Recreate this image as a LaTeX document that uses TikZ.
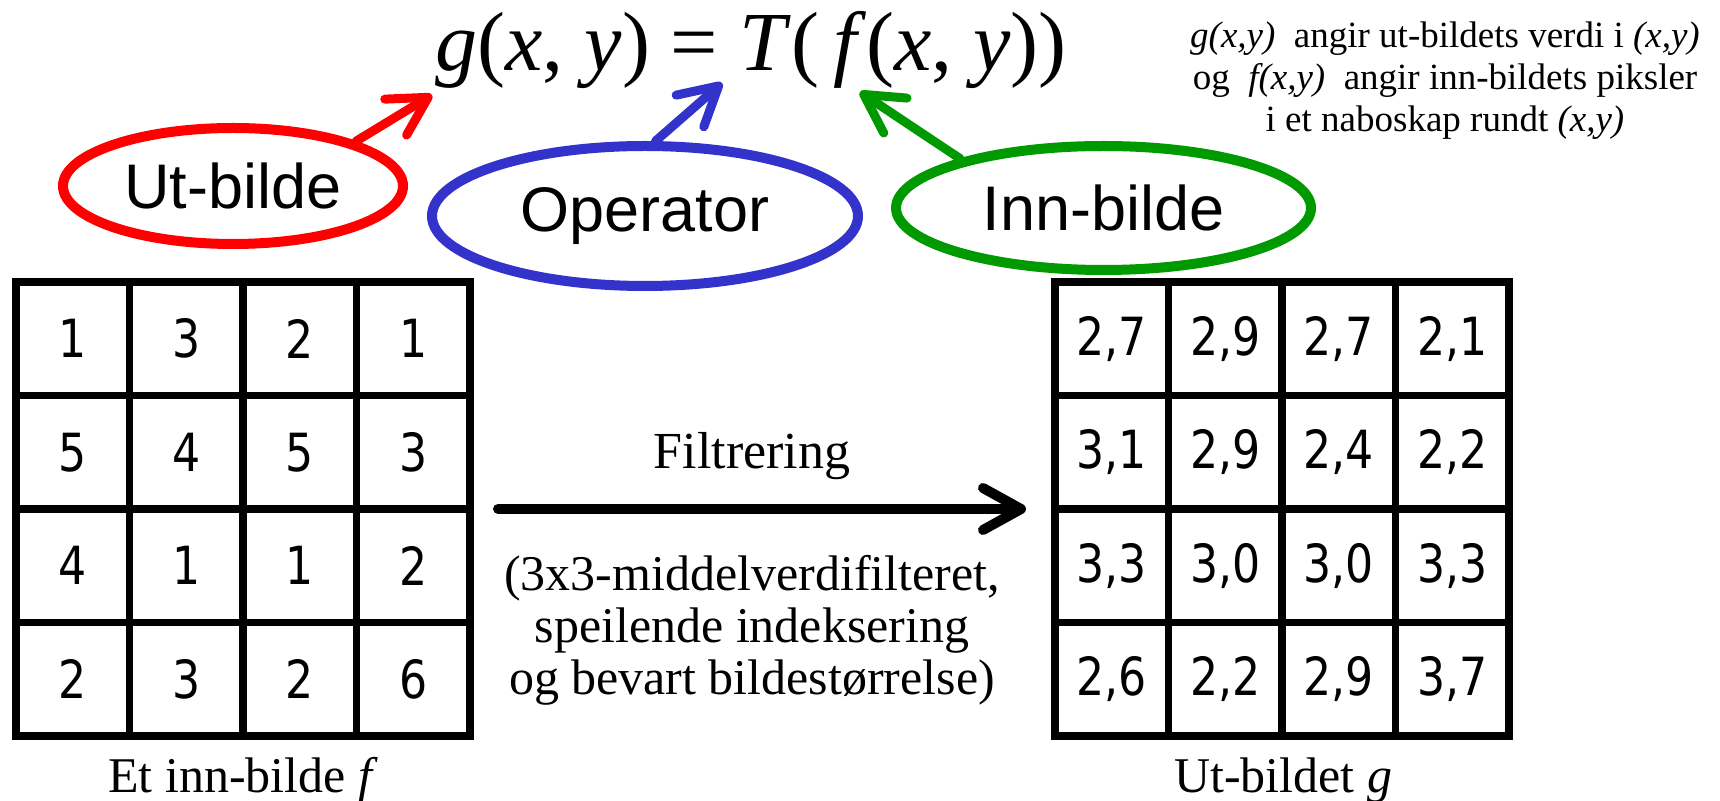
\documentclass[tikz,border=0pt]{standalone}
\usepackage{fontspec}
\setmainfont{Liberation Serif}
\newfontfamily\arialfont{Liberation Sans}
\newfontfamily\cellfont[FakeStretch=0.84]{DejaVu Sans}
\usetikzlibrary{shapes.geometric,arrows.meta}
\definecolor{utRed}{RGB}{255,0,0}
\definecolor{opBlue}{RGB}{51,51,204}
\definecolor{innGreen}{RGB}{0,153,0}
\begin{document}
\begin{tikzpicture}
[x=0.5pt,y=-0.5pt,%
  cellDecorate/.style={shape=rectangle,draw,line width=3.75pt,minimum size=56.75pt,inner sep=0pt,font=\cellfont\fontsize{26.3}{30}\selectfont},%
  ovalDecorate/.style={shape=ellipse,draw,line width=5pt,inner sep=0pt,font=\arialfont\fontsize{31.5}{36}\selectfont},%
  arrowDecorate/.style={line width=4.5pt,line cap=round,-{Straight Barb[length=19pt,width=21pt,round]}},%
  textDecorate/.style={inner sep=0pt,font=\fontsize{25}{26}\selectfont}]
\useasboundingbox (0,0) rectangle (1720,801);
%% formula and note
\node (formula) at (751,71) [anchor=base,inner sep=0pt,font=\fontsize{42}{48}\selectfont]
  {\textit{g}(\textit{x}, \textit{y}) = \textit{T}(\,\textit{f}(\textit{x}, \textit{y}))};
\node (note) at (1445,21) [anchor=north,align=center,inner sep=0pt,font=\fontsize{18.5}{21}\selectfont]
  {\textit{g(x,y)}\ \ angir ut-bildets verdi i \textit{(x,y)}\\
   og\ \ \textit{f(x,y)}\ \ angir inn-bildets piksler\\
   i et naboskap rundt \textit{(x,y)}};
%% ellipses
\node (ut) at (233,186) [ovalDecorate,draw=utRed,minimum width=170pt,minimum height=58pt] {Ut-bilde};
\node (op) at (645,216) [ovalDecorate,draw=opBlue,minimum width=213pt,minimum height=70pt] {Operator};
\node (inn) at (1103.5,208) [ovalDecorate,draw=innGreen,minimum width=207.5pt,minimum height=62pt] {Inn-bilde};
%% arrows to the formula
\coordinate (utTip) at (432,95);
\coordinate (opTip) at (722,83);
\coordinate (innTip) at (860,92);
\draw [arrowDecorate,draw=utRed] (ut.20) -- (utTip);
\draw [arrowDecorate,draw=opBlue] (op.82) -- (opTip);
\draw [arrowDecorate,draw=innGreen] (inn.161) -- (innTip);
%% input image f
\foreach \vals [count=\r] in {{1,3,2,1},{5,4,5,3},{4,1,1,2},{2,3,2,6}}
{
  \foreach \v [count=\c] in \vals
    \node (f-\r-\c) at ({16+113.5*(\c-0.5)},{282+113.5*(\r-0.5)}) [cellDecorate] {\v};
}
%% output image g
\foreach \vals [count=\r] in {{{2,7},{2,9},{2,7},{2,1}},{{3,1},{2,9},{2,4},{2,2}},
  {{3,3},{3,0},{3,0},{3,3}},{{2,6},{2,2},{2,9},{3,7}}}
{
  \foreach \v [count=\c] in \vals
    \node (g-\r-\c) at ({1055+113.5*(\c-0.5)},{282+113.5*(\r-0.5)}) [cellDecorate] {\v};
}
%% filtering arrow
\coordinate (filterStart) at (498,509);
\coordinate (filterEnd) at (1026,509);
\draw [arrowDecorate,line width=5pt] (filterStart) -- (filterEnd);
\node (filterTop) at (752,469) [textDecorate,anchor=base,font=\fontsize{26}{28}\selectfont] {Filtrering};
\node (filterBottom) at (752,555) [textDecorate,anchor=north,align=center]
  {(3x3-middelverdifilteret,\\ speilende indeksering\\ og bevart bildestørrelse)};
%% captions
\node (fCaption) at (243,792) [textDecorate,anchor=base] {Et inn-bilde \textit{f}};
\node (gCaption) at (1283,792) [textDecorate,anchor=base] {Ut-bildet \textit{g}};
\end{tikzpicture}
\end{document}
